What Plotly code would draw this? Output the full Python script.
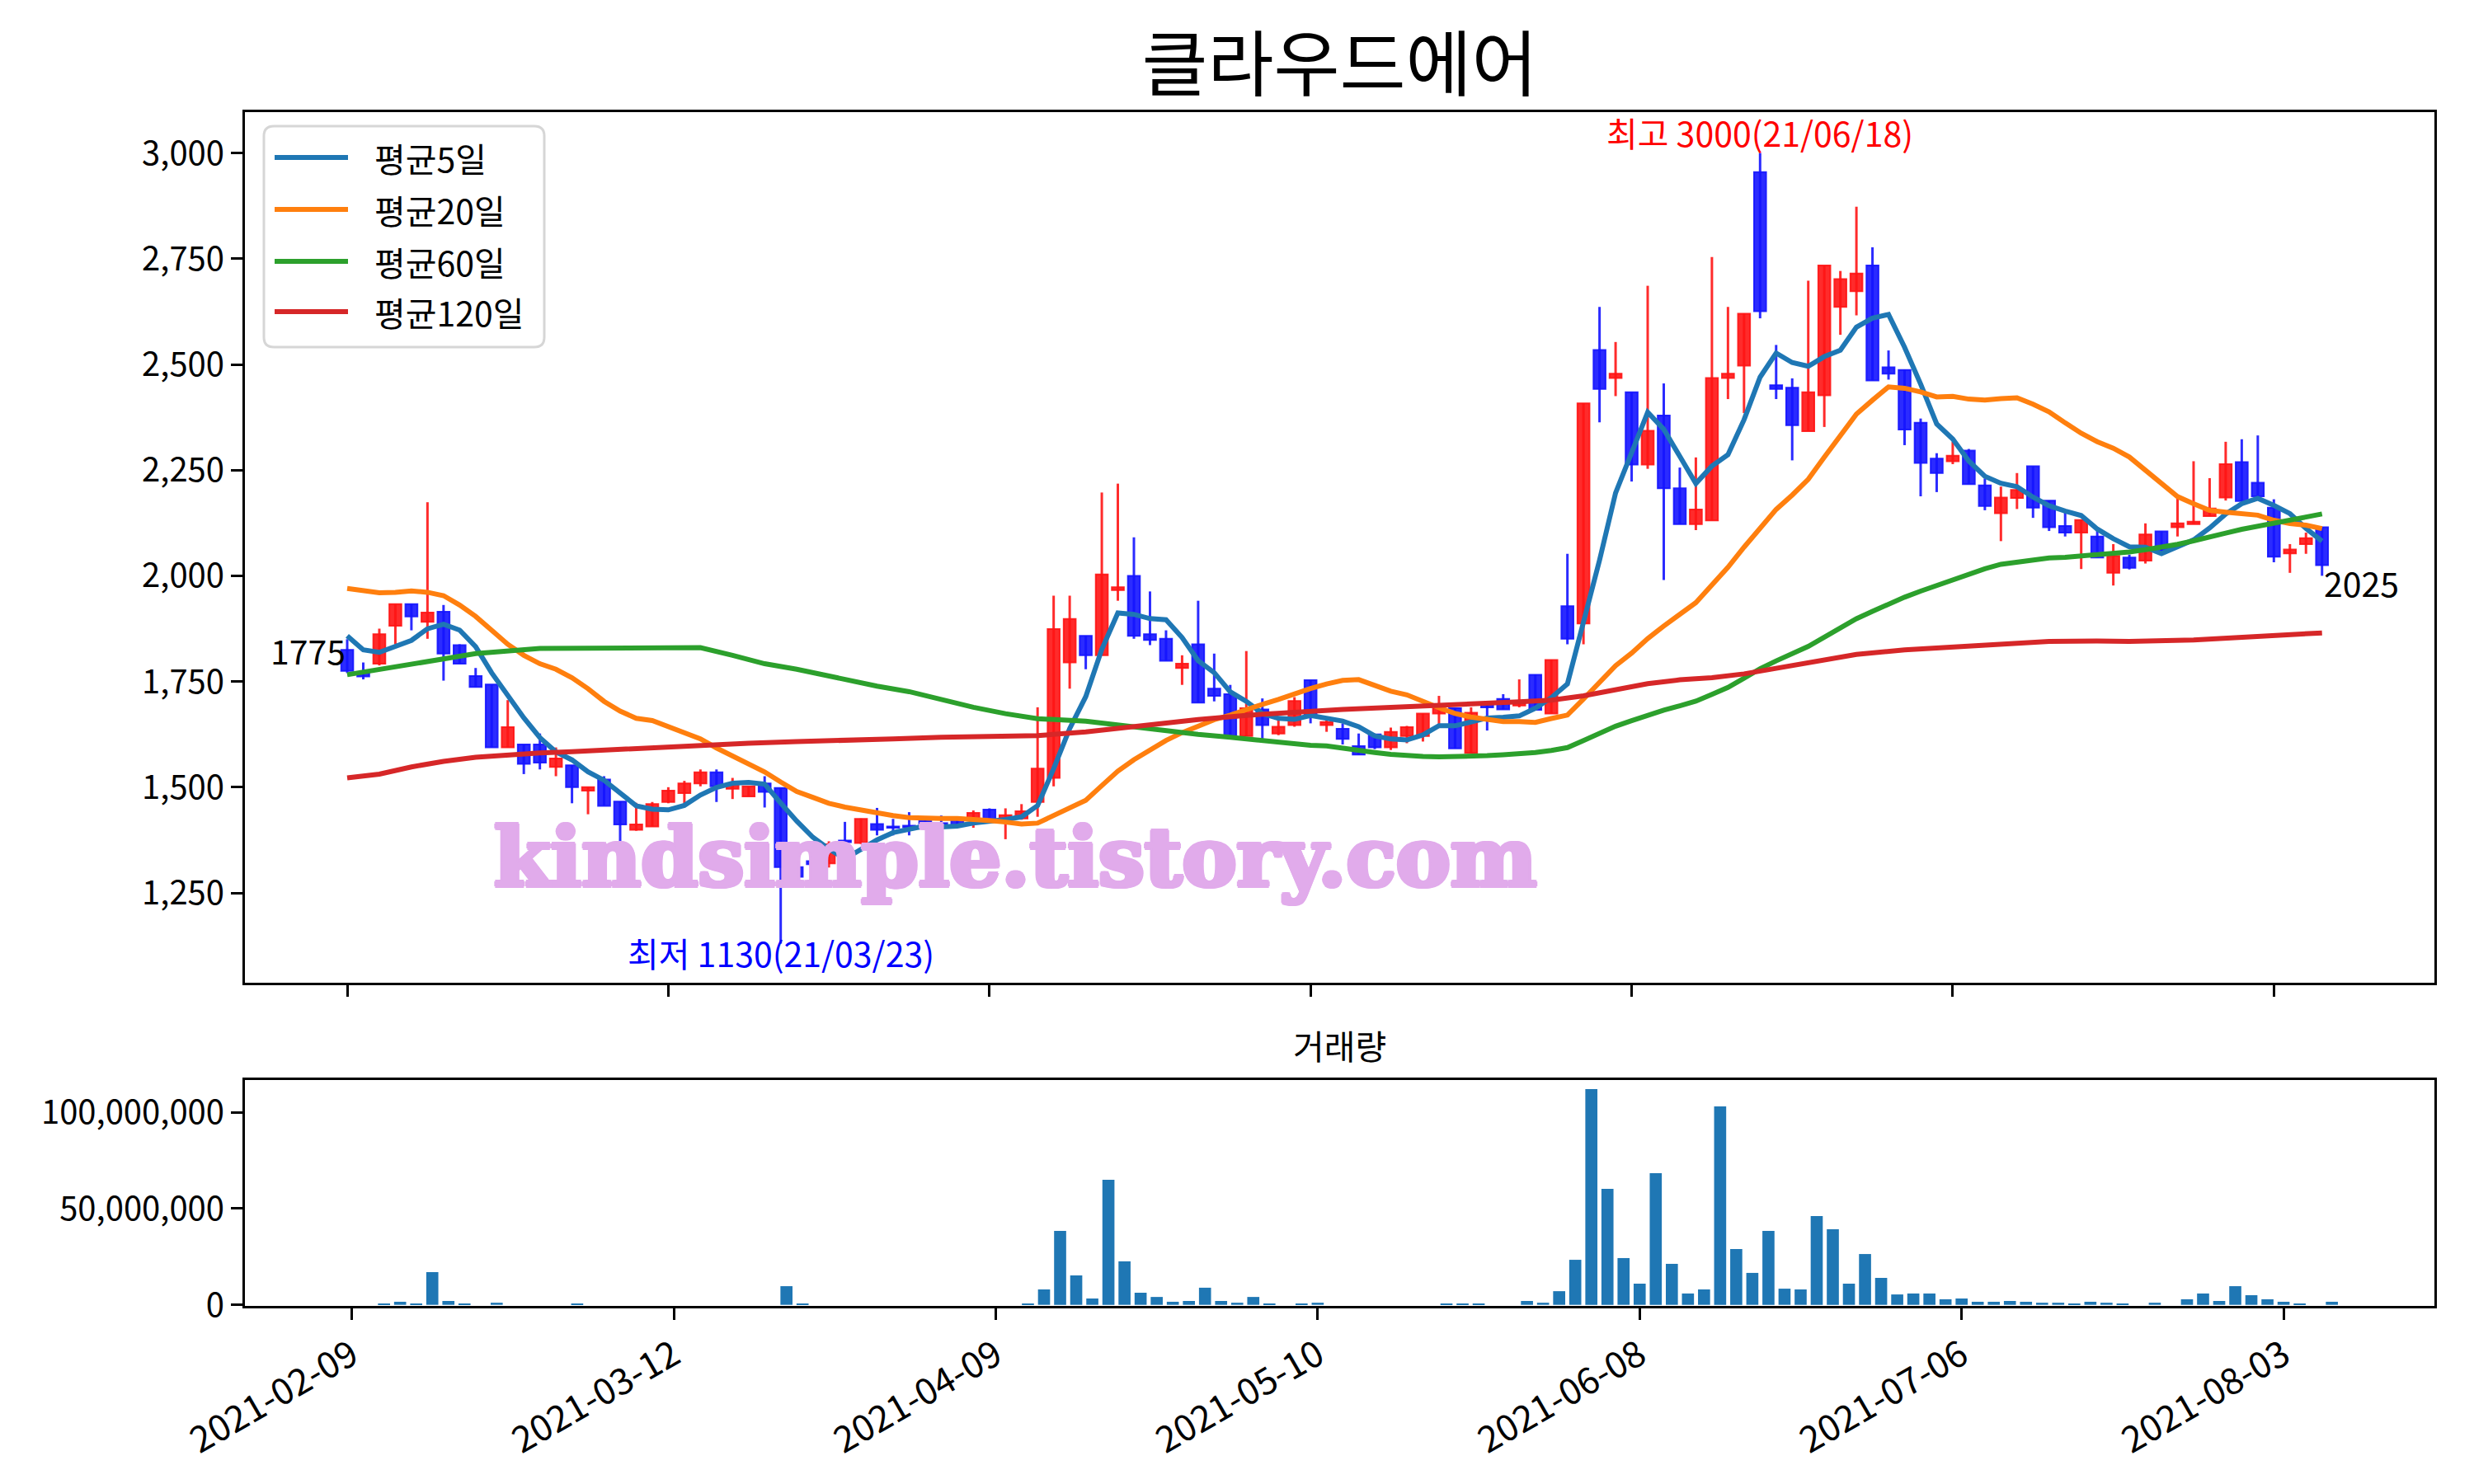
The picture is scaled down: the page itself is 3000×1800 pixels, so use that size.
import pandas as pd
import plotly.graph_objects as go

# ---------------- data ----------------
title_text = "클라우드에어"
holidays = ["2021-02-11", "2021-02-12", "2021-03-01", "2021-05-05", "2021-05-19"]
dates = [d for d in pd.bdate_range("2021-02-09", "2021-08-06") if d.strftime("%Y-%m-%d") not in holidays]

open_ = [1825, 1770, 1792, 1882, 1933, 1891, 1915, 1836, 1763, 1743,
         1594, 1601, 1601, 1548, 1552, 1492, 1518, 1466, 1399, 1407,
         1465, 1486, 1509, 1535, 1496, 1478, 1509, 1498, 1311, 1325,
         1320, 1374, 1368, 1413, 1407, 1409, 1420, 1415, 1423, 1423,
         1447, 1426, 1426, 1465, 1522, 1795, 1858, 1812, 1966, 2000,
         1862, 1851, 1782, 1838, 1733, 1720, 1621, 1684, 1627, 1647,
         1753, 1647, 1638, 1597, 1625, 1594, 1621, 1621, 1674, 1687,
         1581, 1697, 1709, 1693, 1766, 1674, 1928, 1887, 2534, 2468,
         2434, 2263, 2379, 2207, 2122, 2131, 2468, 2497, 2955, 2451,
         2445, 2342, 2427, 2636, 2673, 2734, 2493, 2487, 2362, 2277,
         2271, 2296, 2214, 2148, 2184, 2259, 2178, 2118, 2102, 2093,
         2007, 2043, 2036, 2105, 2115, 2122, 2141, 2185, 2269, 2220,
         2161, 2053, 2075, 2115]
high = [1850, 1795, 1875, 1933, 1933, 2174, 1931, 1838, 1782, 1743,
        1706, 1601, 1627, 1594, 1552, 1500, 1526, 1466, 1463, 1465,
        1500, 1515, 1542, 1542, 1522, 1502, 1526, 1498, 1330, 1335,
        1372, 1418, 1426, 1451, 1425, 1441, 1425, 1433, 1430, 1445,
        1450, 1450, 1460, 1689, 1953, 1953, 1858, 2197, 2218, 2091,
        1963, 1871, 1812, 1941, 1816, 1742, 1822, 1710, 1667, 1713,
        1753, 1660, 1651, 1627, 1625, 1641, 1645, 1674, 1716, 1687,
        1689, 1697, 1720, 1755, 1766, 1801, 2052, 2408, 2636, 2553,
        2434, 2686, 2455, 2256, 2280, 2754, 2636, 2620, 3000, 2546,
        2467, 2698, 2734, 2721, 2873, 2777, 2533, 2487, 2372, 2290,
        2317, 2300, 2230, 2211, 2243, 2259, 2178, 2151, 2132, 2108,
        2075, 2050, 2124, 2105, 2184, 2271, 2231, 2317, 2323, 2332,
        2181, 2075, 2102, 2115]
low = [1770, 1755, 1788, 1838, 1871, 1851, 1752, 1792, 1737, 1594,
       1594, 1531, 1542, 1526, 1462, 1436, 1456, 1364, 1397, 1407,
       1462, 1462, 1502, 1465, 1472, 1478, 1452, 1130, 1280, 1300,
       1310, 1360, 1366, 1386, 1386, 1386, 1405, 1407, 1405, 1404,
       1420, 1377, 1423, 1430, 1502, 1733, 1779, 1812, 1941, 1851,
       1836, 1799, 1742, 1700, 1703, 1621, 1621, 1614, 1623, 1643,
       1651, 1631, 1601, 1577, 1590, 1588, 1604, 1608, 1650, 1592,
       1581, 1634, 1684, 1689, 1683, 1674, 1838, 1838, 2363, 2425,
       2223, 2253, 1990, 2122, 2108, 2131, 2418, 2385, 2609, 2418,
       2273, 2342, 2352, 2570, 2616, 2462, 2464, 2309, 2188, 2198,
       2264, 2217, 2155, 2082, 2158, 2137, 2106, 2093, 2016, 2043,
       1977, 2015, 2029, 2056, 2093, 2122, 2141, 2178, 2177, 2188,
       2032, 2007, 2052, 2000]
close = [1775, 1762, 1862, 1933, 1904, 1913, 1816, 1792, 1737, 1594,
         1642, 1555, 1558, 1568, 1500, 1500, 1456, 1412, 1412, 1460,
         1492, 1509, 1535, 1502, 1509, 1502, 1489, 1311, 1288, 1318,
         1365, 1370, 1425, 1399, 1404, 1405, 1410, 1412, 1410, 1439,
         1423, 1434, 1443, 1544, 1874, 1898, 1812, 2003, 1973, 1858,
         1848, 1799, 1792, 1700, 1716, 1621, 1687, 1647, 1643, 1704,
         1667, 1654, 1614, 1577, 1594, 1631, 1642, 1674, 1687, 1592,
         1676, 1689, 1684, 1702, 1683, 1801, 1851, 2408, 2442, 2478,
         2263, 2343, 2207, 2122, 2157, 2468, 2478, 2620, 2626, 2442,
         2356, 2434, 2734, 2702, 2715, 2462, 2478, 2346, 2267, 2243,
         2284, 2217, 2165, 2185, 2203, 2161, 2115, 2102, 2132, 2043,
         2047, 2019, 2098, 2056, 2124, 2128, 2159, 2264, 2177, 2188,
         2045, 2062, 2089, 2025]
volume_m = [0, 0, 0.7, 1.6, 0.7, 17.0, 2.0, 0.7, 0, 1.1,
            0, 0, 0, 0, 0.7, 0, 0, 0, 0, 0,
            0, 0, 0, 0, 0, 0, 0, 9.7, 0.7, 0,
            0, 0, 0, 0, 0, 0, 0, 0, 0, 0,
            0, 0, 0.7, 8.0, 38.4, 15.3, 3.3, 65.0, 22.6, 6.3,
            4.1, 1.6, 2.0, 8.9, 2.0, 1.1, 4.1, 0.7, 0, 0.7,
            1.1, 0, 0, 0, 0, 0, 0, 0, 0.7, 0.7,
            0.7, 0, 0, 2.0, 1.1, 7.1, 23.4, 112.1, 60.3, 24.3,
            11.0, 68.4, 21.3, 5.9, 8.0, 103.1, 29.0, 16.6, 38.4, 8.4,
            8.0, 46.1, 39.3, 11.0, 26.4, 14.0, 5.4, 5.9, 5.9, 2.9,
            3.3, 1.6, 1.6, 2.0, 1.6, 1.1, 1.1, 0.7, 1.6, 1.1,
            0.7, 0, 1.1, 0, 2.9, 5.9, 2.0, 9.7, 5.0, 2.9,
            1.6, 0.7, 0, 1.6]

# moving-average values before the window is complete
ma5_early = [1858, 1825, 1819, 1832]
ma20_early = [1970, 1964, 1960, 1961, 1964, 1961, 1953, 1931, 1904, 1871,
              1838, 1812, 1792, 1779, 1759, 1733, 1703, 1680, 1663]
ma60_early_idx = [0, 4, 8, 12, 16, 21, 22, 24, 26, 28, 30, 33, 35, 37, 39, 41, 43, 46, 48, 50, 53, 55, 57]
ma60_early_val = [1766, 1792, 1816, 1828, 1829, 1829, 1830, 1812, 1792, 1779, 1763, 1739, 1726, 1706,
                  1689, 1674, 1662, 1656, 1647, 1637, 1625, 1618, 1610]
ma120_idx = [0, 2, 4, 6, 8, 10, 12, 14, 16, 18, 21, 25, 28, 31, 34, 37, 40, 43, 46, 48, 50, 53, 56, 59,
             62, 65, 67, 70, 73, 75, 77, 79, 81, 83, 85, 87, 89, 90, 92, 94, 97, 100, 103, 106, 109,
             111, 115, 118, 121, 123]
ma120_val = [1522, 1531, 1548, 1561, 1571, 1577, 1581, 1584, 1588, 1591, 1597, 1604, 1608, 1610, 1614,
             1618, 1620, 1622, 1631, 1640, 1648, 1660, 1670, 1678, 1684, 1689, 1693, 1697, 1702, 1706,
             1716, 1730, 1745, 1754, 1759, 1768, 1781, 1788, 1801, 1814, 1825, 1832, 1838, 1845, 1846,
             1845, 1848, 1854, 1862, 1865]

ma_names = ["평균5일", "평균20일", "평균60일", "평균120일"]
ma_colors = ["#1f77b4", "#ff7f0e", "#2ca02c", "#d62728"]

# ---------------- derived ----------------
n = len(close)
idx = list(range(n))
s_close = pd.Series(close, dtype=float)
ma5 = ma5_early + s_close.rolling(5).mean().iloc[4:].round(1).tolist()
ma20 = ma20_early + s_close.rolling(20).mean().iloc[19:].round(1).tolist()
ma60_x = ma60_early_idx + list(range(59, n))
ma60_y = ma60_early_val + s_close.rolling(60).mean().iloc[59:].round(1).tolist()
date_str = [d.strftime("%Y-%m-%d") for d in dates][:n]
tick_pos = list(range(0, n, 20))
tick_txt = [date_str[i] for i in tick_pos]
volume = [v * 1e6 for v in volume_m]

FONT = "Noto Sans CJK KR, Noto Sans, sans-serif"
RED = "rgba(255,20,20,0.9)"
BLUE = "rgba(20,20,255,0.9)"
W, H = 3000, 1800
OFF = 8  # page body margin


def px(v):
    return (v - OFF) / W


def py(v):
    return 1 - (v - OFF) / H


fig = go.Figure()

# wicks
for up, col in [(True, RED), (False, BLUE)]:
    wx, wy = [], []
    for i in idx:
        if (close[i] >= open_[i]) == up:
            wx += [i, i, None]
            wy += [low[i], high[i], None]
    fig.add_trace(go.Scatter(x=wx, y=wy, mode="lines", line=dict(color=col, width=3),
                             showlegend=False, hoverinfo="skip", xaxis="x", yaxis="y"))
# bodies
for up, col in [(True, RED), (False, BLUE)]:
    bx = [i for i in idx if (close[i] >= open_[i]) == up]
    fig.add_trace(go.Bar(x=bx, y=[abs(close[i] - open_[i]) for i in bx],
                         base=[min(close[i], open_[i]) for i in bx], width=0.75,
                         marker=dict(color=col, line=dict(color=col, width=2)),
                         showlegend=False, xaxis="x", yaxis="y"))

# moving averages
ma_xs = [idx, idx, ma60_x, ma120_idx]
ma_ys = [ma5, ma20, ma60_y, ma120_val]
for name, col, xs, ys in zip(ma_names, ma_colors, ma_xs, ma_ys):
    fig.add_trace(go.Scatter(x=xs, y=ys, mode="lines", name=name, showlegend=False,
                             line=dict(color=col, width=6), xaxis="x", yaxis="y"))

# volume
fig.add_trace(go.Bar(x=idx, y=volume, width=0.75, marker=dict(color="#1f77b4", line=dict(width=0)),
                     showlegend=False, xaxis="x2", yaxis="y2"))

# ---------------- annotations ----------------
hi_i = max(idx, key=lambda i: high[i])
lo_i = min(idx, key=lambda i: low[i])
wm_col = "#E1ABEB"
wm_shadow = ", ".join(f"{dx}px {dy}px 0 {wm_col}" for dx, dy in
                      [(2, 0), (-2, 0), (0, 2), (0, -2), (2, 2), (-2, -2), (2, -2), (-2, 2), (3, 0), (-3, 0)])
annotations = [
    dict(x=hi_i, y=high[hi_i], xref="x", yref="y", xanchor="center", yanchor="bottom", showarrow=False,
         yshift=-6, text=f"최고 {high[hi_i]}({dates[hi_i].strftime('%y/%m/%d')})",
         font=dict(color="red", size=41)),
    dict(x=lo_i, y=low[lo_i], xref="x", yref="y", xanchor="center", yanchor="top", showarrow=False,
         yshift=22, text=f"최저 {low[lo_i]}({dates[lo_i].strftime('%y/%m/%d')})",
         font=dict(color="blue", size=41)),
    dict(x=0, y=close[0], xref="x", yref="y", xanchor="right", yanchor="bottom", showarrow=False,
         yshift=-6, text=f"{close[0]}", font=dict(color="black", size=41)),
    dict(x=n - 1, y=close[-1], xref="x", yref="y", xanchor="left", yanchor="top", showarrow=False,
         yshift=12, text=f"{close[-1]}", font=dict(color="black", size=41)),
    dict(x=px(1624.5), y=py(1267), xref="paper", yref="paper", xanchor="center", yanchor="middle",
         showarrow=False, text="거래량", font=dict(color="black", size=41)),
    dict(x=px(1231), y=py(1040), xref="paper", yref="paper", xanchor="center", yanchor="middle",
         showarrow=False, text="<b>kindsimple.tistory.com</b>",
         font=dict(color=wm_col, size=99, family="DejaVu Serif", shadow=wm_shadow)),
]

# ---------------- legend (drawn box, sample lines, labels) ----------------
shapes = []
lg_l, lg_r, lg_t, lg_b, rad = 320, 660, 153, 421, 12
path = (f"M {px(lg_l + rad)},{py(lg_t)} L {px(lg_r - rad)},{py(lg_t)} "
        f"Q {px(lg_r)},{py(lg_t)} {px(lg_r)},{py(lg_t + rad)} L {px(lg_r)},{py(lg_b - rad)} "
        f"Q {px(lg_r)},{py(lg_b)} {px(lg_r - rad)},{py(lg_b)} L {px(lg_l + rad)},{py(lg_b)} "
        f"Q {px(lg_l)},{py(lg_b)} {px(lg_l)},{py(lg_b - rad)} L {px(lg_l)},{py(lg_t + rad)} "
        f"Q {px(lg_l)},{py(lg_t)} {px(lg_l + rad)},{py(lg_t)} Z")
shapes.append(dict(type="path", xref="paper", yref="paper", path=path,
                   fillcolor="rgba(255,255,255,0.85)", line=dict(color="#d6d6d6", width=3), layer="above"))
row_y = [191, 254, 317, 378]
for name, col, ry in zip(ma_names, ma_colors, row_y):
    shapes.append(dict(type="line", xref="paper", yref="paper", x0=px(333), x1=px(422), y0=py(ry), y1=py(ry),
                       line=dict(color=col, width=6), layer="above"))
    annotations.append(dict(x=px(452), y=py(ry), xref="paper", yref="paper", xanchor="left", yanchor="middle",
                            showarrow=False, text=name, font=dict(color="black", size=41)))

axis_common = dict(showline=True, mirror=True, linecolor="black", linewidth=3, showgrid=False,
                   zeroline=False, ticks="outside", ticklen=14, tickwidth=3, tickcolor="black",
                   automargin=False)

fig.update_layout(
    width=W, height=H, margin=dict(l=0, r=0, t=0, b=0, autoexpand=False),
    paper_bgcolor="white", plot_bgcolor="white", barmode="overlay",
    font=dict(family=FONT, color="black"),
    title=dict(text=title_text, x=px(1624.5), y=py(80), xanchor="center", yanchor="middle",
               font=dict(size=87, color="black")),
    xaxis=dict(domain=[px(297), px(2952)], anchor="y", range=[-6.37, 130.0],
               tickvals=tick_pos, showticklabels=False, **axis_common),
    yaxis=dict(domain=[py(1192), py(136)], anchor="x", range=[1037.5, 3096.7],
               tickvals=[1250, 1500, 1750, 2000, 2250, 2500, 2750, 3000], tickformat=",",
               tickfont=dict(size=40, color="black"), **axis_common),
    xaxis2=dict(domain=[px(297), px(2952)], anchor="y2", range=[-6.64, 129.37],
                tickvals=tick_pos, ticktext=tick_txt, tickangle=-30,
                tickfont=dict(size=44, color="black"), **axis_common),
    yaxis2=dict(domain=[py(1584), py(1310)], anchor="x2", range=[-0.56e6, 116.8e6],
                tickvals=[0, 5e7, 1e8], tickformat=",",
                tickfont=dict(size=40, color="black"), **axis_common),
    annotations=annotations,
    shapes=shapes,
    showlegend=False,
)

fig.write_html("out.html")
